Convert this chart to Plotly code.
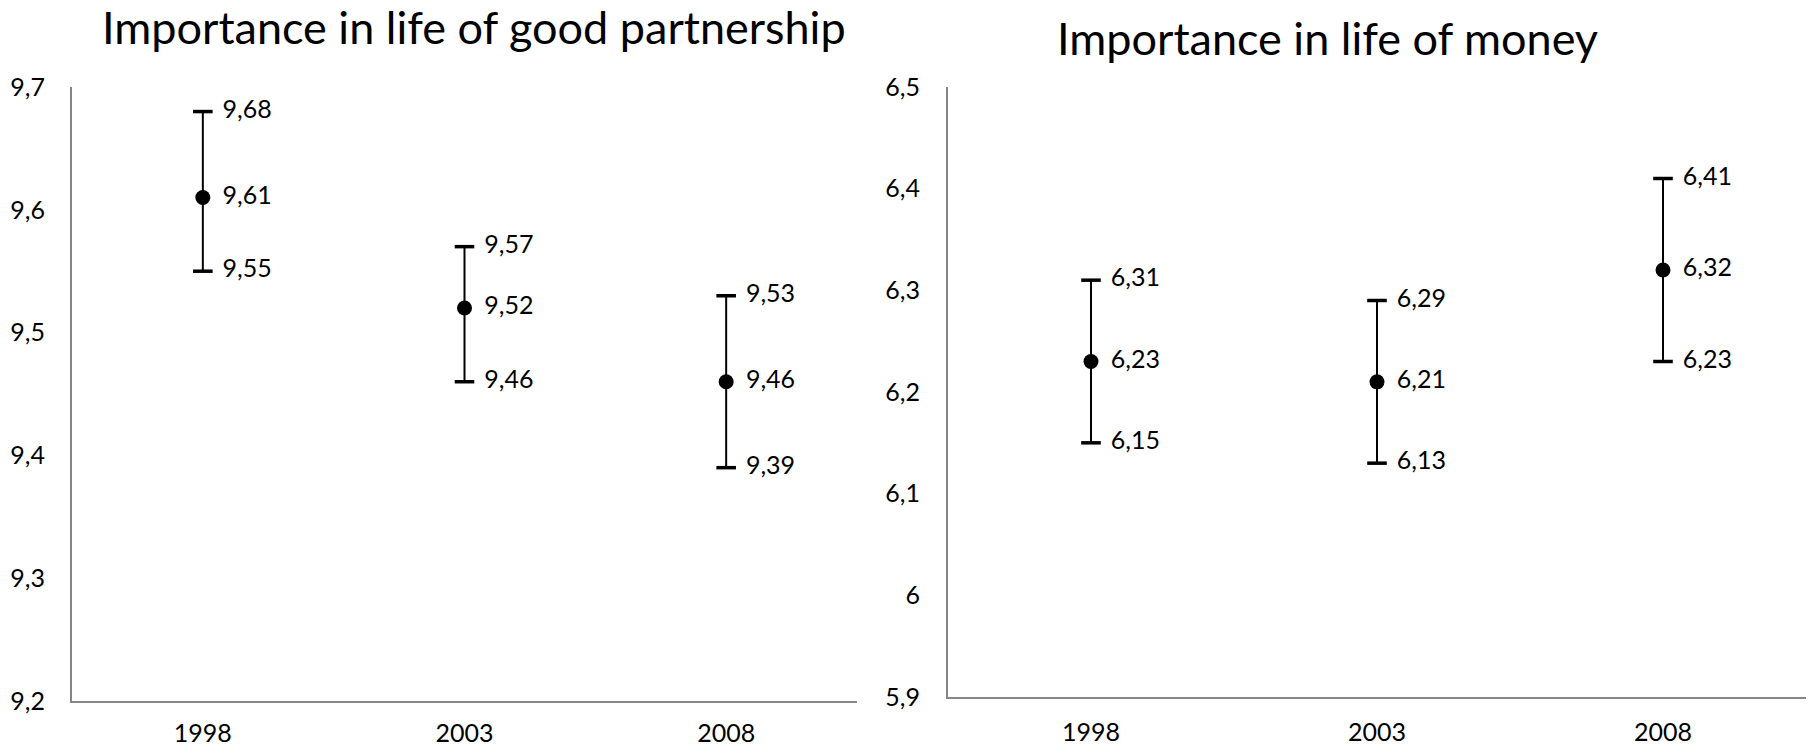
import plotly.graph_objects as go

# Survey years and interval estimates (mean with lower / upper bound)
years = ["1998", "2003", "2008"]

partner_mean = [9.61, 9.52, 9.46]
partner_upper = [9.68, 9.57, 9.53]
partner_lower = [9.55, 9.46, 9.39]

money_mean = [6.23, 6.21, 6.32]
money_upper = [6.31, 6.29, 6.41]
money_lower = [6.15, 6.13, 6.23]

partner_ticks = [9.2, 9.3, 9.4, 9.5, 9.6, 9.7]
money_ticks = [5.9, 6.0, 6.1, 6.2, 6.3, 6.4, 6.5]

FONT = "Lato, Calibri, sans-serif"
AXIS_GREY = "#868686"
LABEL_SIZE = 25

fig = go.Figure()


def add_panel(mean, upper, lower, xa, ya):
    plus = [u - m for u, m in zip(upper, mean)]
    minus = [m - l for m, l in zip(mean, lower)]
    # whisker stems
    fig.add_trace(go.Scatter(
        x=years, y=mean, mode="markers",
        marker=dict(color="black", size=15),
        error_y=dict(type="data", symmetric=False, array=plus, arrayminus=minus,
                     color="black", thickness=2, width=0),
        xaxis=xa, yaxis=ya, showlegend=False, hoverinfo="skip",
    ))
    # end caps at the bounds
    for vals in (upper, lower):
        fig.add_trace(go.Scatter(
            x=years, y=vals, mode="markers",
            marker=dict(symbol="line-ew", size=14, line=dict(color="black", width=3.5)),
            xaxis=xa, yaxis=ya, showlegend=False, hoverinfo="skip",
        ))
    # value labels to the right of the mean and both bounds
    for vals in (upper, mean, lower):
        fig.add_trace(go.Scatter(
            x=years, y=vals, mode="markers+text",
            marker=dict(size=30, opacity=0),
            texttemplate="%{y:.2f}", textposition="middle right",
            textfont=dict(family=FONT, size=LABEL_SIZE, color="black"),
            xaxis=xa, yaxis=ya, showlegend=False, hoverinfo="skip",
        ))


add_panel(partner_mean, partner_upper, partner_lower, "x", "y")
add_panel(money_mean, money_upper, money_lower, "x2", "y2")

W, H = 1818, 748


def xaxis(domain, anchor, standoff):
    return dict(domain=domain, anchor=anchor, type="category", range=[-0.5, 2.5],
                showline=True, linecolor=AXIS_GREY, linewidth=2, showgrid=False,
                zeroline=False, ticks="", ticklabelstandoff=standoff, automargin=False,
                tickfont=dict(family=FONT, size=LABEL_SIZE, color="black"))


def yaxis(domain, anchor, rng, tickvals, standoff):
    return dict(domain=domain, anchor=anchor, range=rng, tickvals=tickvals,
                showline=True, linecolor=AXIS_GREY, linewidth=2, showgrid=False,
                zeroline=False, ticks="", ticklabelstandoff=standoff, automargin=False,
                tickfont=dict(family=FONT, size=LABEL_SIZE, color="black"))


fig.update_layout(
    width=W, height=H,
    margin=dict(l=0, r=0, t=0, b=0, autoexpand=False),
    paper_bgcolor="white", plot_bgcolor="white",
    separators=",.",
    xaxis=xaxis([72 / W, 857 / W], "y", 9),
    yaxis=yaxis([1 - 701 / H, 1 - 87 / H], "x", [9.2, 9.7], partner_ticks, 20),
    xaxis2=xaxis([948 / W, 1806 / W], "y2", 12),
    yaxis2=yaxis([1 - 697 / H, 1 - 87 / H], "x2", [5.9, 6.5], money_ticks, 21),
    annotations=[
        dict(text="Importance in life of good partnership", x=474 / W, y=1 - 27 / H,
             xref="paper", yref="paper", xanchor="center", yanchor="middle",
             showarrow=False, font=dict(family=FONT, size=45, color="black")),
        dict(text="Importance in life of money", x=1327 / W, y=1 - 38 / H,
             xref="paper", yref="paper", xanchor="center", yanchor="middle",
             showarrow=False, font=dict(family=FONT, size=45, color="black")),
    ],
)

fig.write_html("out.html")
